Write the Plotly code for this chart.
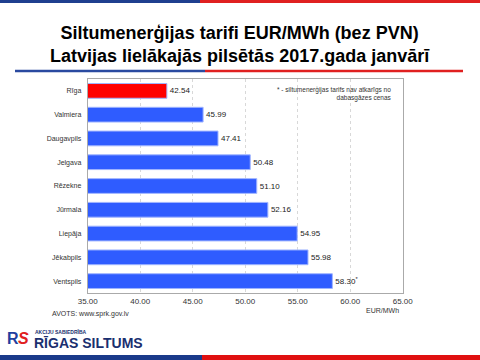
import plotly.graph_objects as go

cities = ["Rīga", "Valmiera", "Daugavpils", "Jelgava", "Rēzekne", "Jūrmala", "Liepāja", "Jēkabpils", "Ventspils"]
tariffs = [42.54, 45.99, 47.41, 50.48, 51.10, 52.16, 54.95, 55.98, 58.30]
value_labels = ["42.54", "45.99", "47.41", "50.48", "51.10", "52.16", "54.95", "55.98", "58.30<sup>*</sup>"]
bar_colors = ["#ff0000"] + ["#2f5cff"] * 8
x_ticks = [35, 40, 45, 50, 55, 60, 65]

W, H = 480, 360
def px(x):
    return x / W
def py(y):
    return 1 - y / H

fig = go.Figure()
fig.add_trace(go.Bar(
    y=cities, x=tariffs, orientation="h", base=0,
    marker=dict(color=bar_colors, line=dict(color="#9fb4ff", width=1)),
    width=0.62,
    text=value_labels, textposition="outside", cliponaxis=False,
    textfont=dict(family="Arial, Liberation Sans", size=8, color="#222222"),
))

fig.update_layout(
    width=W, height=H,
    margin=dict(l=0, r=0, t=0, b=0, autoexpand=False),
    paper_bgcolor="white", plot_bgcolor="white",
    showlegend=False,
    font=dict(family="Arial, Liberation Sans", color="#333333"),
    xaxis=dict(
        domain=[px(87.7), px(402.7)], range=[35, 65], automargin=False,
        tickvals=x_ticks, ticktext=[f"{v:.2f}" for v in x_ticks],
        tickfont=dict(size=8, color="#333333"),
        showgrid=True, gridcolor="#d8d8d8", griddash="dot", gridwidth=1,
        showline=True, linecolor="#aaaaaa", mirror=True,
        zeroline=False, ticks="",
    ),
    yaxis=dict(
        domain=[py(293), py(79)], autorange=False, range=[8.5, -0.5], automargin=False,
        tickfont=dict(size=7, color="#333333"),
        showline=True, linecolor="#aaaaaa", mirror=True,
        ticks="", showgrid=False, ticklabelstandoff=4,
    ),
)

shapes = [
    dict(type="rect", xref="paper", yref="paper", x0=0, x1=px(200), y0=py(3), y1=1, fillcolor="#1f3f8f", line_width=0),
    dict(type="rect", xref="paper", yref="paper", x0=px(200), x1=1, y0=py(3), y1=1, fillcolor="#e02020", line_width=0),
    dict(type="line", xref="paper", yref="paper", x0=px(15), x1=px(205), y0=py(71), y1=py(71), line=dict(color="#2a4aa0", width=2.5)),
    dict(type="line", xref="paper", yref="paper", x0=px(205), x1=px(463), y0=py(71), y1=py(71), line=dict(color="#e02020", width=2.5)),
    dict(type="rect", xref="paper", yref="paper", x0=0, x1=px(202), y0=0, y1=py(355), fillcolor="#1a3a8a", line_width=0),
    dict(type="rect", xref="paper", yref="paper", x0=px(202), x1=1, y0=0, y1=py(355), fillcolor="#e01010", line_width=0),
]
fig.update_layout(shapes=shapes)

ann = [
    dict(text="<b>Siltumenerģijas tarifi EUR/MWh (bez PVN)<br>Latvijas lielākajās pilsētās 2017.gada janvārī</b>",
         x=0.5, y=py(44), xref="paper", yref="paper", showarrow=False, xanchor="center", yanchor="middle",
         font=dict(size=18, color="#000000", family="Arial, Liberation Sans"), align="center"),
    dict(text="* - siltumenerģijas tarifs nav atkarīgs no<br>dabasgāzes cenas",
         x=px(394), y=py(94), xref="paper", yref="paper", showarrow=False, xanchor="right", yanchor="middle",
         font=dict(size=6.5, color="#333333"), align="right"),
    dict(text="AVOTS: www.sprk.gov.lv",
         x=px(50), y=py(314), xref="paper", yref="paper", showarrow=False, xanchor="left", yanchor="middle",
         font=dict(size=7, color="#333333")),
    dict(text="EUR/MWh",
         x=px(382), y=py(310), xref="paper", yref="paper", showarrow=False, xanchor="center", yanchor="middle",
         font=dict(size=7, color="#333333")),
    dict(text="<b>R</b>", x=px(5), y=py(338), xref="paper", yref="paper", showarrow=False, xanchor="left", yanchor="middle",
         font=dict(size=16, color="#1f3f9f", family="Arial, Liberation Sans")),
    dict(text="<b><i>S</i></b>", x=px(16), y=py(338), xref="paper", yref="paper", showarrow=False, xanchor="left", yanchor="middle",
         font=dict(size=16, color="#e02020", family="Arial, Liberation Sans")),
    dict(text="<b>AKCIJU SABIEDRĪBA</b>", x=px(33), y=py(332), xref="paper", yref="paper", showarrow=False, xanchor="left", yanchor="middle",
         font=dict(size=5, color="#1a2f6f")),
    dict(text="<b>RĪGAS SILTUMS</b>", x=px(32), y=py(343), xref="paper", yref="paper", showarrow=False, xanchor="left", yanchor="middle",
         font=dict(size=14, color="#1a2f6f", family="Arial, Liberation Sans")),
]
fig.update_layout(annotations=ann)

fig.write_html("out.html", config={"displayModeBar": False},
               post_script="document.body.style.margin='0';")
